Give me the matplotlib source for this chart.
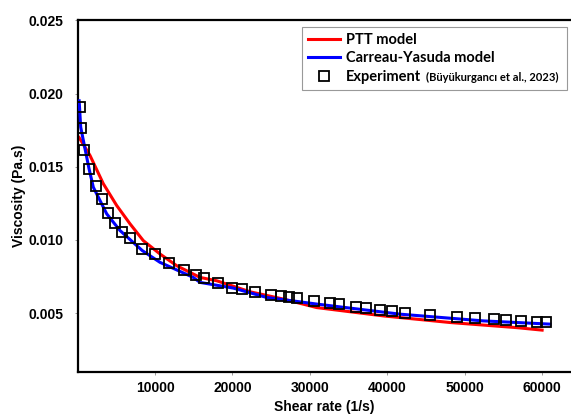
import numpy as np
import matplotlib.pyplot as plt

# experiment
exp_rate = [310, 400, 830, 1510, 2380, 3110, 3970, 4830, 5740, 6810, 8360, 10040,
            11770, 13750, 15260, 16370, 18100, 19910, 21240, 22920, 24950, 26240,
            27350, 28390, 30580, 32610, 33810, 35970, 37260, 39030, 40660, 42300,
            45530, 48980, 51350, 53840, 55350, 57250, 59320, 60480]
exp_visc = [0.01908, 0.01767, 0.01612, 0.01486, 0.01365, 0.01278, 0.01185, 0.01116,
            0.01055, 0.01011, 0.00936, 0.00901, 0.00844, 0.00797, 0.00762, 0.00737,
            0.00705, 0.00675, 0.00668, 0.00641, 0.00625, 0.00618, 0.00607, 0.00600,
            0.00580, 0.00571, 0.00562, 0.00545, 0.00532, 0.00520, 0.00514, 0.00502,
            0.00488, 0.00473, 0.00468, 0.00461, 0.00456, 0.00447, 0.00442, 0.00442]

# PTT model
ptt_rate = [200, 1600, 3320, 5050, 6770, 8490, 10640, 12800, 15810, 17970, 22270,
            26570, 30880, 39490, 48100, 56720, 60000]
ptt_visc = [0.01699, 0.01577, 0.01384, 0.01235, 0.01110, 0.00995, 0.00904, 0.00824,
            0.00744, 0.00721, 0.00646, 0.00596, 0.00538, 0.00481, 0.00436, 0.00401,
            0.00384]

# Carreau-Yasuda model
cy_rate = [200, 400, 1470, 2030, 3760, 5480, 8360, 10640, 14940, 15810, 20110,
           24430, 30880, 41640, 52400, 61000]
cy_visc = [0.0195, 0.0177, 0.01488, 0.0136, 0.01178, 0.01064, 0.00927, 0.00847,
           0.00744, 0.0071, 0.00671, 0.00607, 0.00562, 0.00493, 0.00447, 0.00425]

plt.rcParams['font.family'] = ['Liberation Sans', 'DejaVu Sans']

fig = plt.figure(figsize=(5.71, 4.18), dpi=100)
ax = fig.add_axes([77.6 / 571, 1 - 371.7 / 418, 1 - 77.6 / 571, (371.7 - 20.3) / 418])

ax.plot(ptt_rate, ptt_visc, color='#ff0000', lw=2.2, label='PTT model', zorder=2)
ax.plot(cy_rate, cy_visc, color='#0000ff', lw=2.2, label='Carreau-Yasuda model', zorder=3)
ax.plot(exp_rate, exp_visc, ls='none', marker='s', ms=7, mfc='none', mec='black',
        mew=1.3, label='Experiment', zorder=4)

ax.set_xlim(0, 63730)
ax.set_ylim(0.001, 0.025)
ax.set_xticks([10000, 20000, 30000, 40000, 50000, 60000])
ax.set_yticks([0.005, 0.010, 0.015, 0.020, 0.025])
ax.set_yticklabels(['0.005', '0.010', '0.015', '0.020', '0.025'])

for s in ['left', 'bottom', 'top']:
    ax.spines[s].set_linewidth(1.6)
ax.spines['right'].set_visible(False)
ax.tick_params(direction='out', length=2, width=0.6, color='#888888', labelsize=10)
ax.tick_params(axis='y', pad=8)
ax.tick_params(axis='x', pad=5)
for lab in ax.get_xticklabels() + ax.get_yticklabels():
    lab.set_fontweight('bold')

ax.set_xlabel('Shear rate (1/s)', fontsize=10, fontweight='bold', labelpad=3)
ax.set_ylabel('Viscosity (Pa.s)', fontsize=10, fontweight='bold', labelpad=2)

# legend box spans x 302..567 px, y 27..86 px in the reference
leg = ax.legend(loc='upper left', mode='expand',
                bbox_to_anchor=(302 / 571, 1 - 86 / 418, 265 / 571, 59 / 418),
                bbox_transform=fig.transFigure, borderaxespad=0, frameon=True,
                fancybox=False, edgecolor='#999999', framealpha=1, handlelength=2.2,
                handletextpad=0.4, borderpad=0.4, labelspacing=0.32,
                prop={'family': 'Lato', 'weight': 'bold', 'size': 10.5})
leg.get_frame().set_linewidth(0.8)

fig.canvas.draw()
bb = leg.get_texts()[2].get_window_extent()
x0, y0 = fig.transFigure.inverted().transform((bb.x1 + 5, (bb.y0 + bb.y1) / 2))
fig.text(x0, y0, '(Büyükurgancı et al., 2023)', fontsize=8, family='Lato',
         fontweight='bold', va='center', ha='left')

fig.savefig('out.png', dpi=100)
